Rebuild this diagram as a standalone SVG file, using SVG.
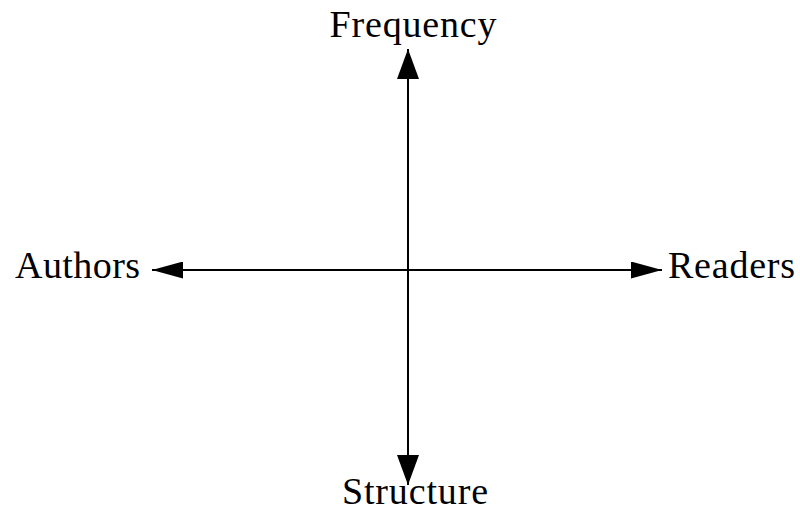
<svg xmlns="http://www.w3.org/2000/svg" width="800" height="514" viewBox="0 0 800 514">
<style>
text { font-family: "Liberation Serif", "Times New Roman", serif; font-size: 38px; fill: #000; }
.axis { stroke: #000; stroke-width: 2; fill: none; }
</style>
<defs>
<marker id="ahv" viewBox="0 0 30 22" refX="30" refY="11" markerWidth="30" markerHeight="22" markerUnits="userSpaceOnUse" orient="auto-start-reverse">
<path d="M0,0 L30,11 L0,22 Z" fill="#000"/>
</marker>
<marker id="ahh" viewBox="0 0 31 17" refX="31" refY="8.5" markerWidth="31" markerHeight="17" markerUnits="userSpaceOnUse" orient="auto-start-reverse">
<path d="M0,0 L31,8.5 L0,17 Z" fill="#000"/>
</marker>
</defs>
<rect width="800" height="514" fill="#fff"/>
<g id="connectors">
<line class="axis" x1="408" y1="485" x2="408" y2="49" marker-start="url(#ahv)" marker-end="url(#ahv)"/>
<line class="axis" x1="152" y1="270" x2="662" y2="270" marker-start="url(#ahh)" marker-end="url(#ahh)"/>
</g>
<g id="frequency"><text x="413" y="37" text-anchor="middle" textLength="167">Frequency</text></g>
<g id="authors"><text x="15" y="278" textLength="125">Authors</text></g>
<g id="readers"><text x="668" y="278" textLength="127">Readers</text></g>
<g id="structure"><text x="415" y="504" text-anchor="middle" textLength="146">Structure</text></g>
</svg>
